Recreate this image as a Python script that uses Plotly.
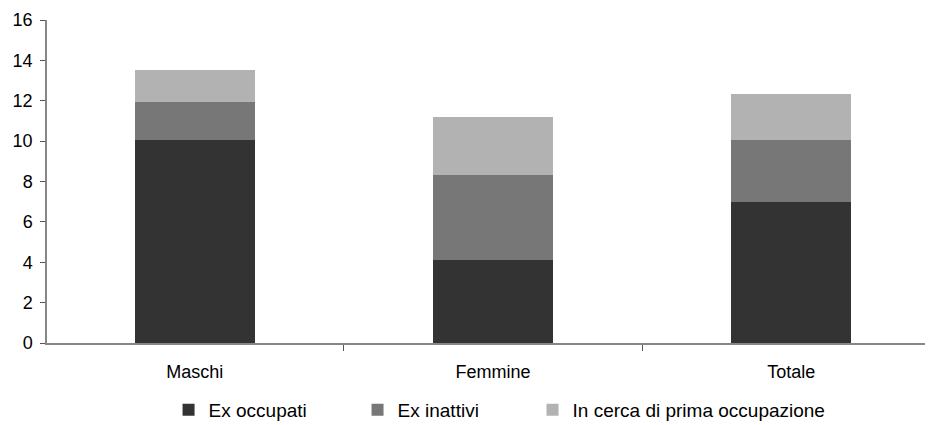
import plotly.graph_objects as go

categories = ["Maschi", "Femmine", "Totale"]
ex_occupati = [10.07, 4.13, 7.0]
ex_inattivi = [1.88, 4.21, 3.07]
in_cerca = [1.59, 2.87, 2.27]
series_names = ["Ex occupati", "Ex inattivi", "In cerca di prima occupazione"]
y_ticks = [0, 2, 4, 6, 8, 10, 12, 14, 16]

colors = ["#333333", "#777777", "#b2b2b2"]
font = "Liberation Sans, Arial, sans-serif"
legend_ids = ["legend", "legend2", "legend3"]
legend_x = [0.1372, 0.3505, 0.5480]

fig = go.Figure()
for name, vals, col, lg in zip(series_names, [ex_occupati, ex_inattivi, in_cerca], colors, legend_ids):
    fig.add_trace(go.Bar(x=categories, y=vals, name=name, marker=dict(color=col, line=dict(width=0)),
                         width=0.402, legend=lg))

# page body has an 8px margin, so the figure is offset by 8px
fig.update_layout(
    barmode="stack",
    width=925, height=417,
    margin=dict(l=39, r=0, t=12, b=82, autoexpand=False),
    plot_bgcolor="white", paper_bgcolor="white",
    font=dict(family=font, size=18, color="#000000"),
    showlegend=True,
)
for lg, lx in zip(legend_ids, legend_x):
    fig.update_layout({lg: dict(orientation="h", x=lx, xanchor="left", xref="paper",
                                y=0.036, yanchor="middle", yref="container",
                                font=dict(size=19), itemwidth=30,
                                bgcolor="rgba(0,0,0,0)")})

fig.update_xaxes(range=[-0.495, 2.475], showline=True, linecolor="#868686", linewidth=1.5,
                 ticks="outside", tickson="boundaries", ticklen=6, tickcolor="#555555",
                 showgrid=False, tickfont=dict(size=18), ticklabelstandoff=12)
fig.update_yaxes(range=[0, 16], tickvals=y_ticks, showline=True, linecolor="#868686", linewidth=1.5,
                 ticks="outside", ticklen=5, tickcolor="#555555", showgrid=False, zeroline=False,
                 tickfont=dict(size=18), ticklabelstandoff=4)

fig.write_html("out.html")
